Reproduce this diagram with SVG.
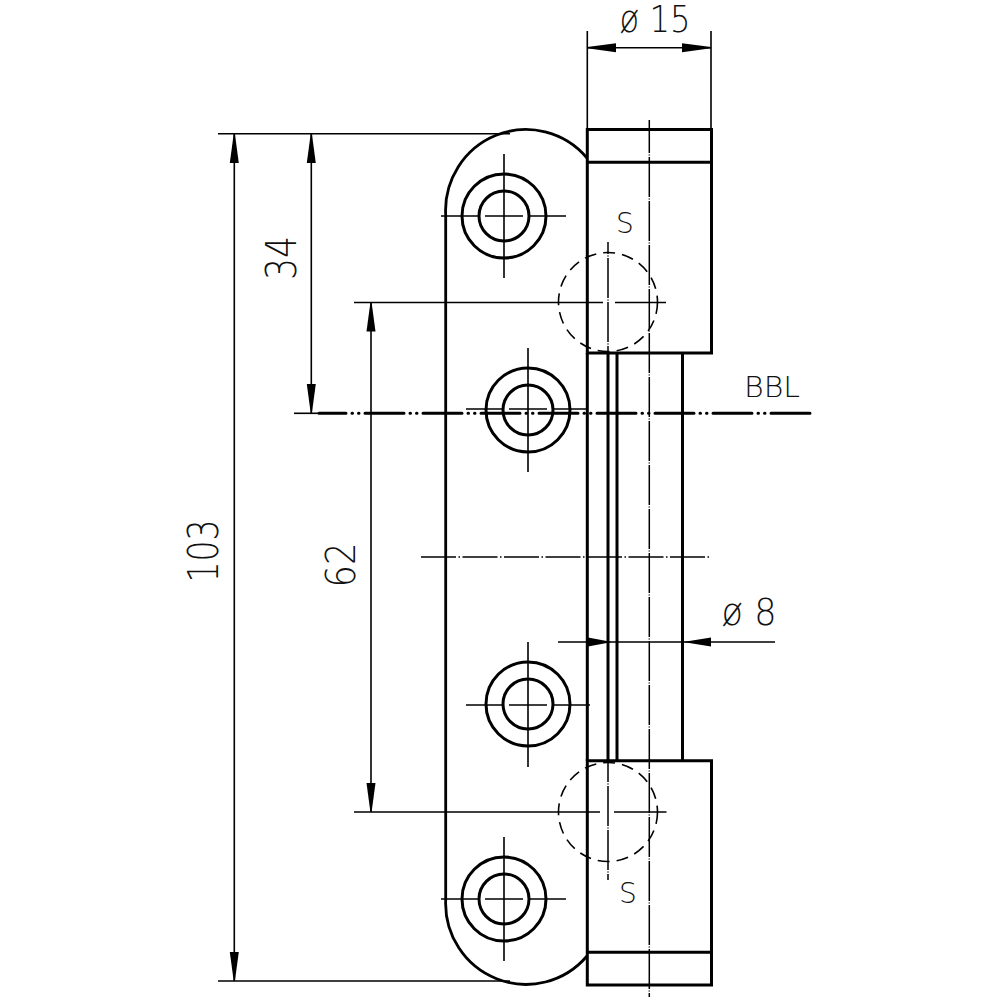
<svg xmlns="http://www.w3.org/2000/svg" width="1000" height="1000" viewBox="0 0 1000 1000">
<style>
.o{fill:none;stroke:#000;stroke-width:3}
.ow{fill:none;stroke:#000;stroke-width:2.8}
.t{fill:none;stroke:#000;stroke-width:1.6}
.c{fill:none;stroke:#000;stroke-width:1.5;stroke-dasharray:40 1.5 1 1.500}
.h{fill:none;stroke:#000;stroke-width:1.6;stroke-dasharray:35 2.5 1.500 2.500}
.d{fill:none;stroke:#000;stroke-width:1.6;stroke-dasharray:12 7}
.b{fill:none;stroke:#000;stroke-width:3;stroke-linecap:round;stroke-dasharray:39 6 0.500 6 0.500 6}
.a{fill:none;stroke:#000;stroke-width:1.6;marker-start:url(#ah);marker-end:url(#ah)}
text{font-family:"DejaVu Sans","Lato",sans-serif;font-weight:200;fill:#111}
</style>
<defs>
<marker id="ah" markerUnits="userSpaceOnUse" viewBox="0 0 29 10" refX="29" refY="5" markerWidth="29" markerHeight="10" orient="auto-start-reverse">
<path d="M29 4.400L0 0.500V9.500L29 5.600Z" fill="#000"/>
</marker>
</defs>
<g id="plate">
<path class="ow" d="M445.700 900V215A80.300 81 0 0 1 587 158M445.700 900A80.300 81 0 0 0 587 956"/>
</g>
<g id="hole-1"><circle class="o" cx="504" cy="216" r="42"/><circle class="o" cx="504" cy="216" r="25"/></g>
<g id="hole-2"><circle class="o" cx="528" cy="410" r="42"/><circle class="o" cx="528" cy="410" r="25"/></g>
<g id="hole-3"><circle class="o" cx="528" cy="704" r="42"/><circle class="o" cx="528" cy="704" r="25"/></g>
<g id="hole-4"><circle class="o" cx="504" cy="899" r="42"/><circle class="o" cx="504" cy="899" r="25"/></g>
<g id="knuckle-top">
<path class="o" d="M587.300 353V129.500H711.500V353ZM587.300 162.300H711.500"/>
</g>
<g id="knuckle-bottom">
<path class="o" d="M587.300 760.700V985H711.500V760.700ZM587.300 952.300H711.500"/>
</g>
<g id="pin">
<path class="o" d="M587.300 353V760.700M608 353V760.700M617 353V760.700M682.500 353V760.700"/>
</g>
<g id="bbl-axis">
<path class="t" d="M294 413.300H318"/>
<path class="b" d="M319 413.300H812" stroke-dashoffset="12"/>
</g>
<g id="connectors">
<path class="t" d="M218 133.700H510M218 981H510M354 302.500H603M615 302.500H666M354 812H600M614 812H666.500M587.300 31V129M711 31V129"/>
<path class="a" d="M234.300 134V981"/>
<path class="a" d="M311.300 134V413"/>
<path class="a" d="M371 302.500V812"/>
<path class="a" d="M587.300 47.700H711"/>
<path class="t" d="M558 642H775"/>
<path fill="#000" d="M612 642L588 637.500V646.500ZM683 642L711 637.500V646.500Z"/>
<path class="t" d="M441 216H479M485 216H523M529 216H566M504 154V278"/>
<path class="t" d="M466 409H503M509 409H547M553 409H587M528 348V472"/>
<path class="t" d="M466 705H503M509 705H547M553 705H590M528 642V767"/>
<path class="t" d="M441 899H479M485 899H523M529 899H566M504 837V961"/>
<path class="h" d="M421 557H709"/>
<path class="c" d="M649.300 120V997" stroke-dashoffset="7"/>
<path class="c" d="M608 242V880" stroke-dashoffset="28"/>
<circle class="d" cx="608" cy="302" r="49.500"/>
<circle class="d" cx="608" cy="812" r="49.500"/>
</g>
<g id="labels">
<text x="655" y="32" font-size="37" text-anchor="middle" textLength="71" lengthAdjust="spacingAndGlyphs">ø 15</text>
<text x="749" y="625" font-size="38" text-anchor="middle" textLength="55" lengthAdjust="spacingAndGlyphs">ø 8</text>
<text x="772" y="397" font-size="28" text-anchor="middle" textLength="56" lengthAdjust="spacingAndGlyphs">BBL</text>
<text x="625" y="233" font-size="28" text-anchor="middle">S</text>
<text x="628" y="903" font-size="28" text-anchor="middle">S</text>
<text transform="translate(218 551) rotate(-90)" font-size="42" text-anchor="middle" textLength="63" lengthAdjust="spacingAndGlyphs">103</text>
<text transform="translate(355 565) rotate(-90)" font-size="41" text-anchor="middle" textLength="45" lengthAdjust="spacingAndGlyphs">62</text>
<text transform="translate(296 258) rotate(-90)" font-size="42" text-anchor="middle" textLength="44" lengthAdjust="spacingAndGlyphs">34</text>
</g>
</svg>
